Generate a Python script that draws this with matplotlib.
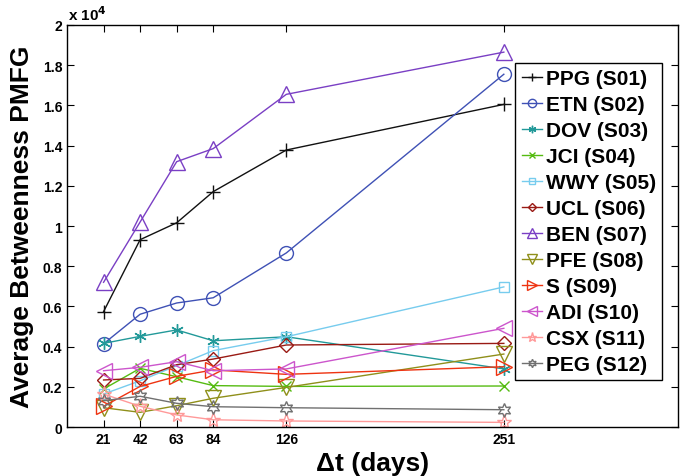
import matplotlib
matplotlib.use("Agg")
import matplotlib.pyplot as plt
from matplotlib.ticker import FuncFormatter

plt.rcParams['font.family'] = ['Liberation Sans', 'DejaVu Sans']
plt.rcParams['font.weight'] = 'bold'

# window lengths (days)
dt = [21, 42, 63, 84, 126, 251]

# average betweenness, in units of 1e4
labels = ['PPG (S01)', 'ETN (S02)', 'DOV (S03)', 'JCI (S04)', 'WWY (S05)', 'UCL (S06)',
          'BEN (S07)', 'PFE (S08)', 'S (S09)', 'ADI (S10)', 'CSX (S11)', 'PEG (S12)']
ppg = [0.574, 0.932, 1.016, 1.171, 1.378, 1.605]
etn = [0.414, 0.561, 0.617, 0.643, 0.866, 1.755]
dov = [0.416, 0.451, 0.483, 0.429, 0.449, 0.289]
jci = [0.189, 0.292, 0.250, 0.206, 0.202, 0.204]
wwy = [0.164, 0.230, 0.305, 0.380, 0.449, 0.697]
ucl = [0.234, 0.242, 0.310, 0.338, 0.408, 0.416]
ben = [0.720, 1.020, 1.320, 1.385, 1.655, 1.865]
pfe = [0.096, 0.073, 0.106, 0.143, 0.197, 0.363]
s09 = [0.103, 0.202, 0.252, 0.284, 0.262, 0.300]
adi = [0.280, 0.297, 0.325, 0.280, 0.289, 0.491]
csx = [0.164, 0.103, 0.060, 0.036, 0.030, 0.023]
peg = [0.131, 0.153, 0.118, 0.101, 0.096, 0.086]
series = [ppg, etn, dov, jci, wwy, ucl, ben, pfe, s09, adi, csx, peg]

colors = ['#111111', '#3f51b5', '#229999', '#55bb11', '#77ccee', '#991a14',
          '#7a3fc4', '#8f8f1a', '#ee3311', '#cc55cc', '#ff9999', '#707070']
markers = ['+', 'o', (6, 2, 0), 'x', 's', 'D', '^', 'v', '>', '<', '*', (6, 1, 0)]
msizes = [10, 10, 9, 7, 7.5, 7.5, 11, 11, 11, 11, 11, 10]

fig = plt.figure(figsize=(6.91, 4.77), dpi=100)
ax = fig.add_axes([0.097, 0.1027, 0.884, 0.8428])

for y, c, m, ms, lab in zip(series, colors, markers, msizes, labels):
    filled = m in ['+', 'x'] or m == (6, 2, 0)
    ax.plot(dt, y, color=c, marker=m, ms=ms, lw=1.0, mew=1.0,
            mfc=c if filled else 'none', mec=c, label=lab)

ax.set_xlim(0, 351)
ax.set_ylim(0, 2)
ax.set_xticks(dt)
ax.set_yticks([0, 0.2, 0.4, 0.6, 0.8, 1, 1.2, 1.4, 1.6, 1.8, 2])
ax.yaxis.set_major_formatter(FuncFormatter(lambda v, p: '%g' % v))
ax.tick_params(direction='in', top=True, right=True, labelsize=10, length=5, width=0.8)
for lbl in ax.get_xticklabels() + ax.get_yticklabels():
    lbl.set_fontweight('bold')
for sp in ax.spines.values():
    sp.set_linewidth(1.0)

ax.text(0.002, 1.006, r'x 10$^4$', transform=ax.transAxes, fontsize=11,
        fontweight='bold', ha='left', va='bottom')

ax.set_ylabel('Average Betweenness PMFG', fontsize=19, fontweight='bold', labelpad=6)
ax.set_xlabel('\u0394t (days)', fontsize=19, fontweight='bold', labelpad=4)

leg = ax.legend(loc='upper right', bbox_to_anchor=(0.974, 0.9055),
                frameon=True, fancybox=False, edgecolor='black', framealpha=1,
                handlelength=1.0, handletextpad=0.15, labelspacing=0.335, markerscale=0.6,
                borderpad=0.3, borderaxespad=0.0, prop={'weight': 'bold', 'size': 15})
leg.get_frame().set_linewidth(1.0)

fig.savefig('out.png', dpi=100)
